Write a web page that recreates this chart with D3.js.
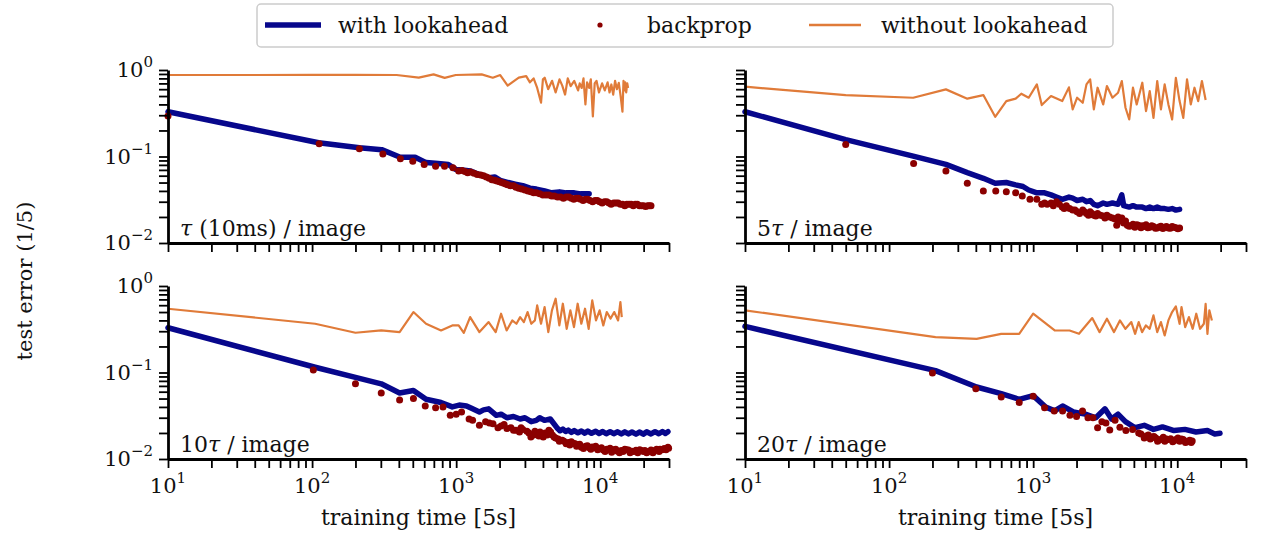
<!DOCTYPE html>
<html>
<head>
<meta charset="utf-8">
<script src="https://cdn.jsdelivr.net/npm/d3@7"></script>
<style>
  body { margin: 0; background: #fff; }
  svg { display: block; font-family: "DejaVu Serif", serif; }
  .axis path, .axis line { stroke: #000; }
</style>
</head>
<body>
<div id="chart"></div>
<script>
// data: [training time, test error]
const withLookTau = [[10,0.329],[111,0.144],[213,0.126],[304,0.12],[409,0.098],[519,0.098],[619,0.085],[750,0.083],[883,0.081],[993,0.071],[1100,0.07],[1259,0.068],[1450,0.062],[1694,0.057],[1850,0.058],[2022,0.053],[2300,0.05],[2565,0.048],[2900,0.046],[3250,0.043],[3600,0.042],[4115,0.04],[4600,0.038],[5215,0.039],[5800,0.038],[6607,0.038],[7300,0.037],[8373,0.037]];
const backpropTau = [[10,0.293],[112,0.14],[213,0.123],[310,0.107],[410,0.094],[500,0.088],[600,0.081],[720,0.077],[830,0.077],[950,0.074],[1040,0.068],[1150,0.067],[1259,0.066],[1400,0.062],[1550,0.06],[1694,0.056],[1850,0.053],[2000,0.051],[2140,0.049],[2277,0.047],[2500,0.046],[2719,0.043],[3000,0.041],[3300,0.039],[3600,0.038],[4000,0.036],[4400,0.036],[4800,0.035],[5300,0.034],[5800,0.034],[6300,0.033],[6800,0.033],[7300,0.032],[7900,0.032],[8500,0.031],[9200,0.031],[9900,0.030],[10700,0.030],[11500,0.029],[12400,0.029],[13300,0.029],[14300,0.028],[15300,0.028],[16400,0.028],[17500,0.028],[18700,0.027],[20000,0.027],[21300,0.027],[22500,0.027],
    [1100,0.069],[1200,0.065],[1330,0.064],[1480,0.061],[1620,0.058],[1770,0.054],[1920,0.052],[2070,0.05],[2210,0.048],[2380,0.046],[2600,0.044],[2850,0.042],[3150,0.040],[3450,0.038],[3800,0.037],[4200,0.036],[4600,0.035],[5050,0.034],[5550,0.033],[6050,0.034],[6550,0.032],[7050,0.033],[7600,0.031],[8200,0.032],[8850,0.030],[9550,0.031],[10300,0.029],[11100,0.030],[11900,0.028],[12850,0.029],[13800,0.028],[14800,0.027],[15850,0.028],[16950,0.027],[18100,0.028],[19350,0.027],[20650,0.0265],[21900,0.027]];
const withoutLookTau = [[10,0.875],[100,0.876],[200,0.878],[386,0.875],[550,0.815],[697,0.89],[832,0.81],[993,0.875],[1503,0.89],[1795,0.815],[2022,0.875],[2277,0.66],[2719,0.815],[3062,0.85],[3250,0.72],[3447,0.80],[3650,0.62],[3881,0.42],[4000,0.78],[4115,0.815],[4350,0.60],[4632,0.75],[4900,0.55],[5215,0.78],[5450,0.66],[5700,0.52],[5950,0.80],[6231,0.65],[6600,0.75],[7015,0.58],[7200,0.70],[7434,0.62],[7650,0.80],[7890,0.40],[8100,0.72],[8373,0.62],[8600,0.78],[8886,0.29],[9150,0.70],[9419,0.75],[9800,0.55],[10300,0.70],[10750,0.58],[11250,0.72],[11600,0.55],[11940,0.68],[12300,0.52],[12670,0.75],[13050,0.60],[13450,0.71],[13850,0.50],[14260,0.33],[14500,0.75],[14700,0.58],[14900,0.72],[15140,0.55],[15400,0.70],[15600,0.62]];

const withLook5 = [[10,0.329],[50,0.157],[147,0.101],[248,0.081],[349,0.065],[451,0.056],[545,0.049],[651,0.05],[756,0.047],[850,0.045],[931,0.041],[1061,0.038],[1200,0.038],[1330,0.036],[1450,0.034],[1592,0.032],[1771,0.034],[1880,0.033],[2019,0.031],[2208,0.032],[2344,0.030],[2486,0.031],[2637,0.028],[2799,0.027],[3062,0.029],[3250,0.028],[3551,0.029],[3883,0.028],[4122,0.036],[4250,0.027],[4643,0.026],[4928,0.027],[5230,0.026],[5719,0.026],[6070,0.025],[6443,0.026],[6839,0.025],[7259,0.026],[7705,0.025],[8178,0.025],[8680,0.0245],[9214,0.025],[9780,0.024],[10380,0.0245]];
const backprop5 = [[50,0.138],[148,0.083],[248,0.068],[349,0.049],[451,0.040],[550,0.040],[651,0.039],[756,0.038],[840,0.035],[950,0.032],[1060,0.032],[1147,0.028],[1250,0.028],[1330,0.029],[1450,0.030],[1592,0.026],[1700,0.027],[1880,0.024],[2019,0.023],[2208,0.024],[2344,0.022],[2486,0.023],[2637,0.021],[2799,0.022],[3062,0.0205],[3250,0.021],[3551,0.0195],[3800,0.016],[3883,0.020],[4122,0.0195],[4374,0.018],[4643,0.0156],[4928,0.0165],[5230,0.0163],[5500,0.0156],[5719,0.0158],[6070,0.0163],[6443,0.0152],[6839,0.0155],[7259,0.0149],[7705,0.0156],[8178,0.0152],[8680,0.0149],[9214,0.0155],[9780,0.015],[10380,0.0149],
    [1200,0.029],[1380,0.027],[1520,0.028],[1640,0.025],[1790,0.025],[1950,0.024],[2100,0.022],[2270,0.023],[2420,0.021],[2560,0.022],[2720,0.0205],[2930,0.021],[3150,0.0195],[3400,0.020],[3700,0.019],[4000,0.018],[4250,0.017],[4500,0.016],[4780,0.0158],[5080,0.0152],[5370,0.016],[5600,0.015],[5900,0.0155],[6250,0.015],[6650,0.0158],[7050,0.0148],[7480,0.0153],[7950,0.0147],[8420,0.0155],[8950,0.0148],[9500,0.0152],[10100,0.0146]];
const withoutLook5 = [[10,0.641],[50,0.513],[147,0.478],[248,0.597],[349,0.466],[451,0.513],[545,0.288],[651,0.437],[756,0.466],[827,0.532],[931,0.478],[1061,0.682],[1147,0.393],[1330,0.50],[1592,0.437],[1771,0.63],[1880,0.35],[2019,0.478],[2208,0.418],[2344,0.682],[2486,0.78],[2637,0.35],[2799,0.624],[3062,0.40],[3250,0.653],[3551,0.478],[3883,0.546],[4122,0.746],[4374,0.366],[4643,0.268],[4928,0.624],[5230,0.40],[5719,0.713],[6070,0.335],[6443,0.571],[6839,0.28],[7259,0.746],[7705,0.35],[8178,0.682],[8680,0.40],[9214,0.268],[9780,0.81],[10380,0.437],[11010,0.28],[11690,0.78],[12410,0.40],[13170,0.624],[13980,0.437],[14830,0.746],[15740,0.45]];

const withLook10 = [[10,0.329],[105,0.115],[200,0.088],[302,0.074],[405,0.058],[505,0.062],[618,0.049],[785,0.045],[940,0.040],[1050,0.042],[1180,0.041],[1300,0.038],[1450,0.035],[1550,0.037],[1680,0.038],[1900,0.032],[2050,0.033],[2250,0.030],[2500,0.031],[2780,0.029],[3000,0.030],[3320,0.027],[3600,0.028],[3800,0.030],[4100,0.028],[4500,0.029],[5000,0.023],[5250,0.0212],[5500,0.0222],[5750,0.0208],[6000,0.0216],[6300,0.0203],[6600,0.0213],[7000,0.0201],[7400,0.0211],[7800,0.0199],[8200,0.021],[8700,0.0198],[9300,0.0209],[9800,0.0197],[10400,0.0208],[11000,0.0196],[11700,0.0207],[12400,0.0196],[13200,0.0206],[14000,0.0195],[14800,0.0206],[15700,0.0195],[16600,0.0205],[17700,0.0194],[18800,0.0205],[19900,0.0194],[21000,0.0206],[22500,0.0195],[24000,0.0207],[25500,0.0196],[27000,0.0208],[28300,0.0197],[29500,0.0207]];
const backprop10 = [[102,0.107],[200,0.074],[302,0.058],[405,0.048],[505,0.050],[610,0.041],[720,0.039],[810,0.040],[910,0.032],[1000,0.033],[1090,0.035],[1230,0.029],[1300,0.028],[1450,0.0245],[1600,0.027],[1800,0.0255],[2050,0.024],[2250,0.0225],[2400,0.023],[2600,0.0215],[2750,0.0205],[2900,0.022],[3100,0.021],[3300,0.018],[3450,0.019],[3600,0.020],[3750,0.0185],[3900,0.019],[4150,0.020],[4400,0.0215],[4650,0.019],[4900,0.0175],[5100,0.017],[5300,0.0165],[5600,0.016],[6000,0.0155],[6300,0.0158],[6700,0.015],[7000,0.0145],[7400,0.0137],[7900,0.014],[8400,0.0135],[8800,0.0138],[9300,0.014],[9900,0.0132],[10500,0.0127],[11100,0.013],[11700,0.0133],[12400,0.0128],[13200,0.0123],[14000,0.0125],[14800,0.013],[15700,0.0127],[16600,0.0123],[17700,0.0126],[18800,0.0128],[19900,0.0122],[21000,0.0118],[22500,0.0127],[24000,0.0125],[25000,0.0128],[26000,0.013],[27800,0.0132],[29500,0.0137],
    [1700,0.026],[1950,0.023],[2150,0.025],[2500,0.0215],[2820,0.023],[3200,0.020],[3520,0.021],[3820,0.0205],[4020,0.018],[4280,0.019],[4520,0.0205],[4780,0.018],[5200,0.016],[5450,0.0165],[5800,0.015],[6150,0.0145],[6500,0.0152],[6850,0.014],[7200,0.0148],[7650,0.0132],[8150,0.0142],[8600,0.013],[9050,0.0135],[9600,0.0128],[10200,0.0135],[10800,0.0122],[11400,0.0128],[12000,0.012],[12800,0.013],[13600,0.0118],[14400,0.0122],[15200,0.0128],[16100,0.0118],[17100,0.0122],[18200,0.0118],[19300,0.0125],[20400,0.0125],[21700,0.0122],[23200,0.0118],[24600,0.013],[25600,0.0122],[26900,0.0128],[28600,0.0128],[29800,0.0133]];
const withoutLook10 = [[10,0.546],[105,0.366],[200,0.288],[302,0.307],[405,0.293],[505,0.50],[618,0.366],[785,0.306],[940,0.35],[1040,0.35],[1130,0.288],[1250,0.437],[1450,0.293],[1680,0.383],[1880,0.293],[2050,0.478],[2240,0.306],[2450,0.40],[2620,0.366],[2780,0.437],[2950,0.383],[3130,0.50],[3320,0.366],[3520,0.40],[3650,0.597],[3880,0.366],[4110,0.571],[4360,0.293],[4620,0.523],[4900,0.713],[5200,0.35],[5500,0.624],[5850,0.32],[6200,0.523],[6570,0.335],[6970,0.624],[7390,0.366],[7840,0.546],[8310,0.32],[8800,0.682],[9340,0.40],[9900,0.523],[10500,0.35],[11100,0.50],[11800,0.42],[12500,0.50],[13300,0.40],[13800,0.653],[14100,0.437]];

const withLook20 = [[10,0.341],[210,0.105],[405,0.068],[600,0.057],[800,0.049],[1000,0.054],[1220,0.040],[1410,0.036],[1600,0.041],[1900,0.035],[2300,0.033],[2720,0.030],[3150,0.038],[3500,0.029],[3880,0.033],[4370,0.027],[5100,0.023],[5900,0.0245],[6840,0.022],[7900,0.0235],[9500,0.0213],[11300,0.022],[13500,0.0205],[16200,0.0213],[18200,0.0195],[19800,0.0198]];
const backprop20 = [[200,0.099],[400,0.065],[600,0.052],[800,0.045],[1000,0.053],[1200,0.039],[1400,0.036],[1600,0.036],[1800,0.032],[2000,0.031],[2200,0.036],[2400,0.030],[2600,0.030],[2800,0.023],[3000,0.027],[3200,0.026],[3400,0.0217],[3700,0.028],[4000,0.0233],[4400,0.0213],[4900,0.022],[5400,0.020],[5900,0.0175],[6300,0.019],[6700,0.018],[7100,0.0175],[7500,0.0166],[8000,0.0178],[8400,0.017],[9000,0.0172],[9500,0.0163],[10100,0.0175],[10700,0.017],[11200,0.0163],[11600,0.0158],[12200,0.0165],[12700,0.0162],
    [5600,0.0195],[6100,0.0185],[6500,0.017],[6900,0.0182],[7300,0.016],[7800,0.017],[8200,0.016],[8700,0.0168],[9300,0.0158],[9800,0.0168],[10400,0.016],[11000,0.0168],[11400,0.0155],[11900,0.016],[12500,0.0155]];
const withoutLook20 = [[10,0.523],[210,0.257],[405,0.245],[600,0.28],[800,0.28],[1000,0.478],[1410,0.306],[1790,0.306],[2080,0.28],[2570,0.426],[2890,0.293],[3250,0.418],[3640,0.293],[4000,0.40],[4370,0.32],[4800,0.383],[5100,0.28],[5400,0.383],[5700,0.293],[6050,0.35],[6440,0.32],[6840,0.457],[7260,0.293],[7700,0.383],[8180,0.268],[8680,0.40],[9210,0.50],[9780,0.58],[10380,0.366],[10700,0.571],[11350,0.335],[12050,0.437],[12800,0.32],[13550,0.478],[14400,0.32],[15300,0.366],[15740,0.62],[16200,0.28],[16700,0.523],[17400,0.40]];

const panelLabels = ["τ", "5τ", "10τ", "20τ"];
const legendLabels = ["with lookahead", "backprop", "without lookahead"];
const xDomain = [10, 30000];
const yDomain = [0.01, 1];
const xLabel = "training time [5s]";
const yLabel = "test error (1/5)";

const colors = { look: "#07078c", bp: "#8b0000", nolook: "#e07b39" };

const svg = d3.select("#chart").append("svg")
    .attr("width", 1266)
    .attr("height", 534);

// 2x2 layout of the panels
const cols = [[168, 669], [745, 1246]];
const rows = [[243, 70], [459, 286]];

const panels = [
    { look: withLookTau, bp: backpropTau, nolook: withoutLookTau, col: 0, row: 0 },
    { look: withLook5, bp: backprop5, nolook: withoutLook5, col: 1, row: 0 },
    { look: withLook10, bp: backprop10, nolook: withoutLook10, col: 0, row: 1 },
    { look: withLook20, bp: backprop20, nolook: withoutLook20, col: 1, row: 1 }
];

function isPow10(v) {
    const l = Math.log10(v);
    return Math.abs(l - Math.round(l)) < 1e-9;
}

function drawPanel(p, i) {
    const x = d3.scaleLog().domain(xDomain).range(cols[p.col]);
    const y = d3.scaleLog().domain(yDomain).range(rows[p.row]);
    const g = svg.append("g");

    const line = d3.line()
        .x(function (d) { return x(d[0]) })
        .y(function (d) { return y(d[1]) });

    g.append("path")
        .datum(p.look)
        .attr("fill", "none")
        .attr("stroke", colors.look)
        .attr("stroke-width", 5.5)
        .attr("stroke-linejoin", "round")
        .attr("stroke-linecap", "round")
        .attr("d", line);

    g.selectAll("circle")
        .data(p.bp)
        .enter().append("circle")
        .attr("cx", function (d) { return x(d[0]) })
        .attr("cy", function (d) { return y(d[1]) })
        .attr("r", 3.5)
        .attr("fill", colors.bp);

    g.append("path")
        .datum(p.nolook)
        .attr("fill", "none")
        .attr("stroke", colors.nolook)
        .attr("stroke-width", 2.2)
        .attr("stroke-linejoin", "round")
        .attr("d", line);

    // axes: ticks on every 1..9 x 10^k, labels only on the outer edges
    g.append("g")
        .attr("class", "axis")
        .attr("transform", "translate(0," + rows[p.row][0] + ")")
        .call(d3.axisBottom(x).tickValues(x.ticks()).tickSize(9).tickSizeOuter(0).tickFormat(""));
    g.append("g")
        .attr("class", "axis")
        .attr("transform", "translate(" + cols[p.col][0] + ",0)")
        .call(d3.axisLeft(y).tickValues(y.ticks()).tickSize(9).tickSizeOuter(0).tickFormat(""));
    g.selectAll(".axis .domain").attr("stroke-width", 2.8);
    g.selectAll(".axis .tick line").attr("stroke-width", 1.8);

    if (p.row === 1) {
        const xl = g.append("g").selectAll("text")
            .data(x.ticks().filter(isPow10))
            .enter().append("text")
            .attr("x", function (d) { return x(d) })
            .attr("y", rows[p.row][0] + 34)
            .attr("text-anchor", "middle")
            .attr("font-size", 21)
            .attr("fill", "#111");
        xl.append("tspan").text("10");
        xl.append("tspan")
            .attr("dy", -10)
            .attr("font-size", 15)
            .text(function (d) { return Math.round(Math.log10(d)) });

        g.append("text")
            .attr("x", (cols[p.col][0] + cols[p.col][1]) / 2)
            .attr("y", rows[p.row][0] + 66)
            .attr("text-anchor", "middle")
            .attr("font-size", 22)
            .attr("fill", "#111")
            .text(xLabel);
    }
    if (p.col === 0) {
        const yl = g.append("g").selectAll("text")
            .data(y.ticks().filter(isPow10))
            .enter().append("text")
            .attr("x", cols[p.col][0] - 15)
            .attr("y", function (d) { return y(d) + 7 })
            .attr("text-anchor", "end")
            .attr("font-size", 21)
            .attr("fill", "#111");
        yl.append("tspan").text("10");
        yl.append("tspan")
            .attr("dy", -10)
            .attr("font-size", 15)
            .text(function (d) {
                const e = Math.round(Math.log10(d));
                return e < 0 ? "\u2212" + (-e) : e;
            });
    }

    // panel label, tau in italics
    const lab = g.append("text")
        .attr("x", cols[p.col][0] + 12)
        .attr("y", rows[p.row][0] - 7)
        .attr("font-size", 22)
        .attr("fill", "#111");
    const pre = panelLabels[i].slice(0, -1);
    if (pre) lab.append("tspan").text(pre);
    lab.append("tspan").attr("font-style", "italic").text("τ");
    lab.append("tspan").text(i === 0 ? " (10ms) / image" : " / image");
}

panels.forEach(drawPanel);

// shared y label
svg.append("text")
    .attr("transform", "translate(32,281) rotate(-90)")
    .attr("text-anchor", "middle")
    .attr("font-size", 21)
    .attr("fill", "#111")
    .text(yLabel);

// legend
const legend = svg.append("g");
legend.append("rect")
    .attr("x", 257).attr("y", 4)
    .attr("width", 856).attr("height", 43)
    .attr("rx", 4)
    .attr("fill", "#fff")
    .attr("stroke", "#cccccc")
    .attr("stroke-width", 1.5);
legend.append("line")
    .attr("x1", 265).attr("x2", 321).attr("y1", 25).attr("y2", 25)
    .attr("stroke", colors.look).attr("stroke-width", 5.5);
legend.append("circle")
    .attr("cx", 600).attr("cy", 25).attr("r", 2.6)
    .attr("fill", colors.bp);
legend.append("line")
    .attr("x1", 809).attr("x2", 861).attr("y1", 25).attr("y2", 25)
    .attr("stroke", colors.nolook).attr("stroke-width", 2.5);
legend.selectAll("text.lab")
    .data(legendLabels)
    .enter().append("text")
    .attr("class", "lab")
    .attr("x", function (d, i) { return [338, 647, 881][i] })
    .attr("y", 33)
    .attr("font-size", 22)
    .attr("fill", "#111")
    .text(function (d) { return d });
</script>
</body>
</html>
